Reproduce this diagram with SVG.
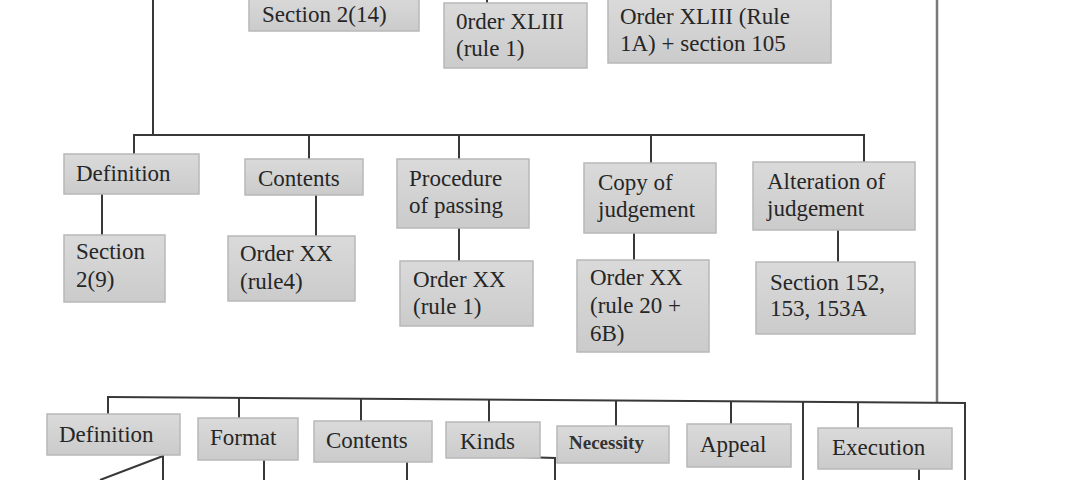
<svg xmlns="http://www.w3.org/2000/svg" width="1080" height="480" viewBox="0 0 1080 480">
<defs>
<linearGradient id="g" x1="0" y1="0" x2="0" y2="1">
<stop offset="0" stop-color="#dadada"/>
<stop offset="1" stop-color="#cbcbcb"/>
</linearGradient>
<style>
.box{fill:url(#g);stroke:#b8b8b8;stroke-width:1.5}
.t{font-family:"Liberation Serif","Times New Roman",serif;font-size:23px;fill:#262626}
.s{font-size:19px;font-weight:bold;fill:#333}
.ln{stroke:#383838;stroke-width:2;fill:none}
.gr{stroke:#7a7a7a;stroke-width:2.5;fill:none}
</style>
</defs>
<rect width="1080" height="480" fill="#ffffff"/>
<g id="connectors">
<line class="ln" x1="153" y1="0" x2="153" y2="135"/>
<line class="ln" x1="487" y1="0" x2="487" y2="3"/>
<line class="ln" x1="133" y1="135" x2="865" y2="135"/>
<line class="ln" x1="134" y1="135" x2="134" y2="154"/>
<line class="ln" x1="309" y1="135" x2="309" y2="159"/>
<line class="ln" x1="459" y1="135" x2="459" y2="159"/>
<line class="ln" x1="651" y1="135" x2="651" y2="163"/>
<line class="ln" x1="864" y1="135" x2="864" y2="162"/>
<line class="ln" x1="102" y1="194" x2="102" y2="235"/>
<line class="ln" x1="316" y1="195" x2="316" y2="236"/>
<line class="ln" x1="459" y1="228" x2="459" y2="261"/>
<line class="ln" x1="634" y1="233" x2="634" y2="260"/>
<line class="ln" x1="838" y1="230" x2="838" y2="262"/>
<line class="gr" x1="937" y1="0" x2="937" y2="403"/>
<line class="ln" x1="107" y1="397" x2="966" y2="403"/>
<line class="ln" x1="108" y1="397" x2="108" y2="414"/>
<line class="ln" x1="239" y1="398" x2="239" y2="418"/>
<line class="ln" x1="361" y1="399" x2="361" y2="421"/>
<line class="ln" x1="489" y1="400" x2="489" y2="422"/>
<line class="ln" x1="616" y1="401" x2="616" y2="426"/>
<line class="ln" x1="731" y1="402" x2="731" y2="424"/>
<line class="ln" x1="803" y1="402" x2="803" y2="480"/>
<line class="ln" x1="858" y1="402" x2="858" y2="428"/>
<line class="ln" x1="965" y1="403" x2="965" y2="480"/>
<line class="ln" x1="163" y1="455" x2="163" y2="480"/>
<line class="ln" x1="163" y1="456" x2="100" y2="480"/>
<line class="ln" x1="264" y1="460" x2="264" y2="480"/>
<line class="ln" x1="407" y1="462" x2="407" y2="480"/>
<polyline class="ln" points="522,457 555,458 555,480"/>
<line class="ln" x1="919" y1="469" x2="919" y2="480"/>
</g>
<g id="n-section-2-14"><rect class="box" x="249" y="-5" width="170" height="36"/><text class="t" x="262" y="22">Section 2(14)</text></g>
<g id="n-order-xliii-rule1"><rect class="box" x="444" y="3" width="143" height="65"/><text class="t" x="456" y="29">0rder XLIII</text><text class="t" x="456" y="56">(rule 1)</text></g>
<g id="n-order-xliii-rule1a"><rect class="box" x="608" y="-3" width="223" height="66"/><text class="t" x="620" y="24">Order XLIII (Rule</text><text class="t" x="620" y="51">1A) + section 105</text></g>
<g id="n-definition-1"><rect class="box" x="64" y="154" width="135" height="40"/><text class="t" x="76" y="181">Definition</text></g>
<g id="n-contents-1"><rect class="box" x="245" y="159" width="118" height="36"/><text class="t" x="258" y="186">Contents</text></g>
<g id="n-procedure"><rect class="box" x="397" y="159" width="132" height="69"/><text class="t" x="409" y="186">Procedure</text><text class="t" x="409" y="213">of passing</text></g>
<g id="n-copy"><rect class="box" x="584" y="163" width="132" height="70"/><text class="t" x="598" y="190">Copy of</text><text class="t" x="598" y="217">judgement</text></g>
<g id="n-alteration"><rect class="box" x="753" y="162" width="162" height="68"/><text class="t" x="767" y="189">Alteration of</text><text class="t" x="767" y="216">judgement</text></g>
<g id="n-section-2-9"><rect class="box" x="64" y="235" width="101" height="67"/><text class="t" x="76" y="259">Section</text><text class="t" x="76" y="287">2(9)</text></g>
<g id="n-order-xx-rule4"><rect class="box" x="228" y="236" width="127" height="65"/><text class="t" x="240" y="261">Order XX</text><text class="t" x="240" y="289">(rule4)</text></g>
<g id="n-order-xx-rule1"><rect class="box" x="400" y="261" width="133" height="65"/><text class="t" x="413" y="287">Order XX</text><text class="t" x="413" y="314">(rule 1)</text></g>
<g id="n-order-xx-rule20"><rect class="box" x="577" y="260" width="132" height="92"/><text class="t" x="590" y="285">Order XX</text><text class="t" x="590" y="313">(rule 20 +</text><text class="t" x="590" y="341">6B)</text></g>
<g id="n-section-152"><rect class="box" x="756" y="262" width="159" height="72"/><text class="t" x="770" y="290">Section 152,</text><text class="t" x="770" y="316">153, 153A</text></g>
<g id="n-definition-2"><rect class="box" x="47" y="414" width="133" height="41"/><text class="t" x="59" y="442">Definition</text></g>
<g id="n-format"><rect class="box" x="198" y="418" width="100" height="42"/><text class="t" x="210" y="445">Format</text></g>
<g id="n-contents-2"><rect class="box" x="314" y="421" width="118" height="41"/><text class="t" x="326" y="448">Contents</text></g>
<g id="n-kinds"><rect class="box" x="446" y="422" width="94" height="36"/><text class="t" x="460" y="449">Kinds</text></g>
<g id="n-necessity"><rect class="box" x="557" y="426" width="112" height="37"/><text class="t s" x="569" y="449">Necessity</text></g>
<g id="n-appeal"><rect class="box" x="687" y="424" width="104" height="43"/><text class="t" x="700" y="452">Appeal</text></g>
<g id="n-execution"><rect class="box" x="818" y="428" width="134" height="41"/><text class="t" x="832" y="455">Execution</text></g>
</svg>
